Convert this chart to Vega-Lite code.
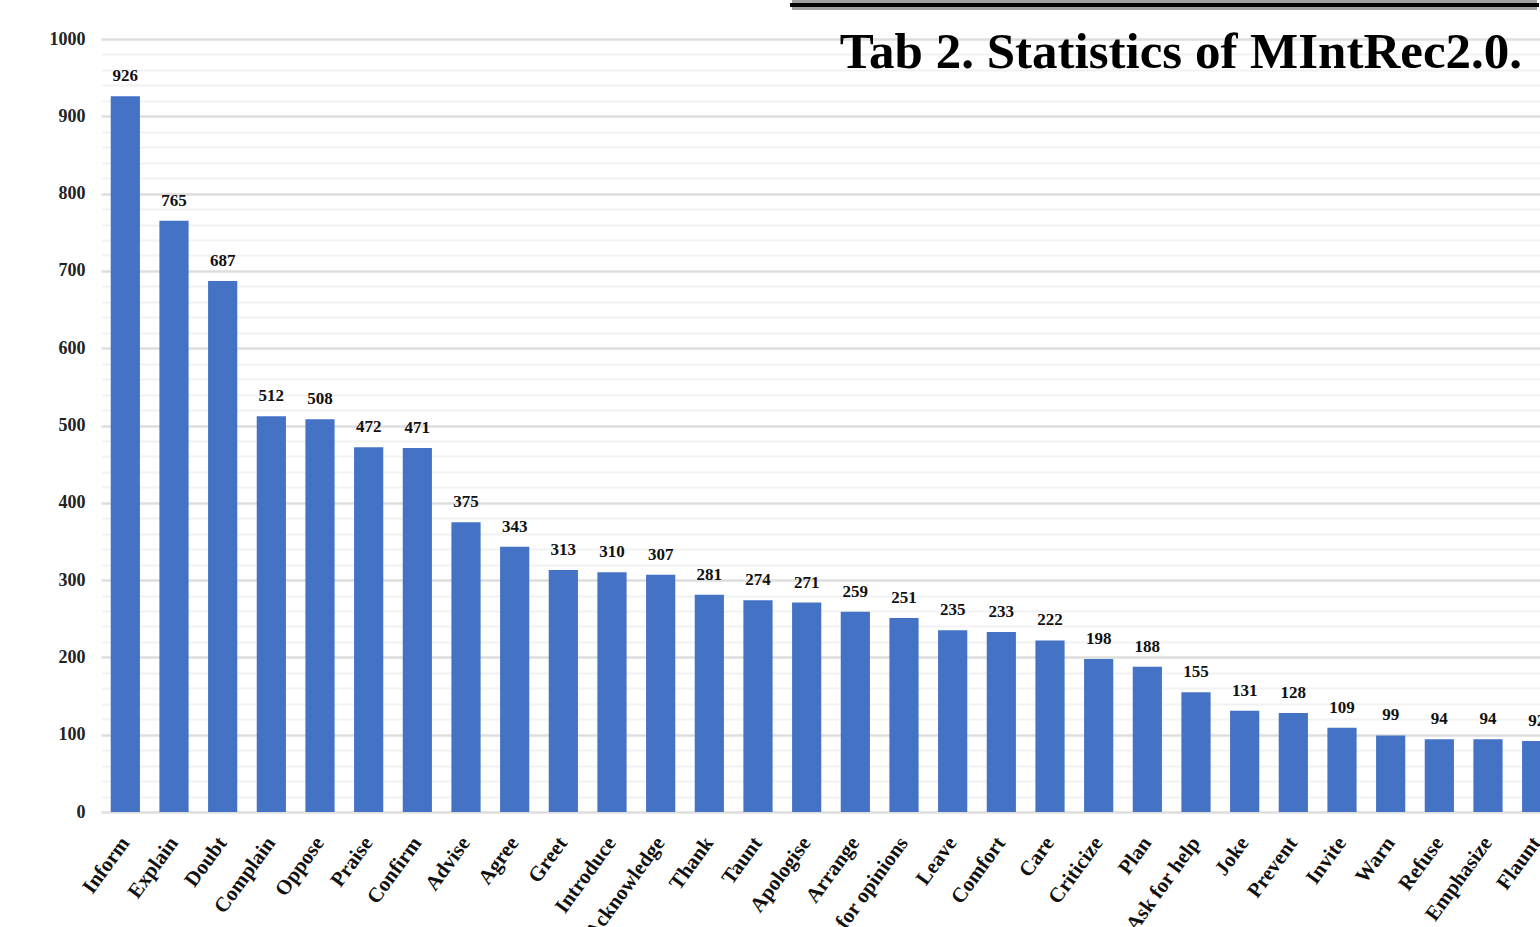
{
  "$schema": "https://vega.github.io/schema/vega-lite/v6.json",
  "width": 1439,
  "height": 773,
  "autosize": {"type": "none"},
  "padding": {"left": 101, "top": 39, "right": 0, "bottom": 115},
  "background": "white",
  "config": {
    "view": {"stroke": null},
    "font": "Liberation Serif"
  },
  "data": {
    "values": [
      {"intent": "Inform", "count": 926},
      {"intent": "Explain", "count": 765},
      {"intent": "Doubt", "count": 687},
      {"intent": "Complain", "count": 512},
      {"intent": "Oppose", "count": 508},
      {"intent": "Praise", "count": 472},
      {"intent": "Confirm", "count": 471},
      {"intent": "Advise", "count": 375},
      {"intent": "Agree", "count": 343},
      {"intent": "Greet", "count": 313},
      {"intent": "Introduce", "count": 310},
      {"intent": "Acknowledge", "count": 307},
      {"intent": "Thank", "count": 281},
      {"intent": "Taunt", "count": 274},
      {"intent": "Apologise", "count": 271},
      {"intent": "Arrange", "count": 259},
      {"intent": "Ask for opinions", "count": 251},
      {"intent": "Leave", "count": 235},
      {"intent": "Comfort", "count": 233},
      {"intent": "Care", "count": 222},
      {"intent": "Criticize", "count": 198},
      {"intent": "Plan", "count": 188},
      {"intent": "Ask for help", "count": 155},
      {"intent": "Joke", "count": 131},
      {"intent": "Prevent", "count": 128},
      {"intent": "Invite", "count": 109},
      {"intent": "Warn", "count": 99},
      {"intent": "Refuse", "count": 94},
      {"intent": "Emphasize", "count": 94},
      {"intent": "Flaunt", "count": 92}
    ]
  },
  "encoding": {
    "x": {
      "field": "intent",
      "type": "nominal",
      "sort": null,
      "scale": {"range": [0, 1460], "paddingInner": 0.4, "paddingOuter": 0.2},
      "axis": {
        "title": null,
        "ticks": false,
        "domain": false,
        "labelAngle": -54,
        "labelAlign": "right",
        "labelBaseline": "middle",
        "labelPadding": 27,
        "labelFont": "Liberation Serif",
        "labelFontSize": 21,
        "labelFontWeight": "bold",
        "labelColor": "#111111",
        "labelOverlap": false,
        "labelLimit": 300
      }
    }
  },
  "layer": [
    {
      "mark": {"type": "bar", "color": "#4472C4"},
      "encoding": {
        "y": {
          "field": "count",
          "type": "quantitative",
          "scale": {"domain": [0, 1000], "nice": false},
          "axis": {
            "title": null,
            "ticks": false,
            "domain": false,
            "tickCount": 200,
            "values": [0,20,40,60,80,100,120,140,160,180,200,220,240,260,280,300,320,340,360,380,400,420,440,460,480,500,520,540,560,580,600,620,640,660,680,700,720,740,760,780,800,820,840,860,880,900,920,940,960,980,1000],
            "labelExpr": "datum.value % 100 === 0 ? datum.label : ''",
            "labelOverlap": false,
            "format": "d",
            "labelFont": "Liberation Serif",
            "labelFontSize": 18,
            "labelFontWeight": "bold",
            "labelColor": "#222222",
            "labelPadding": 16,
            "gridColor": {"condition": {"test": "datum.value % 100 === 0", "value": "#dedede"}, "value": "#f2f2f2"},
            "gridWidth": {"condition": {"test": "datum.value % 100 === 0", "value": 2.5}, "value": 2}
          }
        }
      }
    },
    {
      "mark": {"type": "text", "baseline": "alphabetic", "dy": -15, "font": "Liberation Serif", "fontWeight": "bold", "fontSize": 17, "color": "#111111"},
      "encoding": {
        "y": {"field": "count", "type": "quantitative"},
        "text": {"field": "count", "type": "quantitative"}
      }
    },
    {
      "data": {"values": [{"title": "Tab 2. Statistics of MIntRec2.0.", "anchorIntent": "Flaunt", "level": 962}]},
      "mark": {"type": "text", "align": "right", "baseline": "alphabetic", "font": "Liberation Serif", "fontWeight": "bold", "fontSize": 51, "color": "#000000"},
      "encoding": {
        "x": {"field": "anchorIntent", "type": "nominal", "bandPosition": 0},
        "y": {"field": "level", "type": "quantitative"},
        "text": {"field": "title"}
      }
    },
    {
      "mark": {"type": "rule", "color": "#a0a0a0", "strokeWidth": 9},
      "encoding": {
        "x": {"datum": "Apologise", "bandPosition": 0},
        "x2": {"datum": "Flaunt"},
        "y": {"datum": 1044}
      }
    },
    {
      "mark": {"type": "rule", "color": "#000000", "strokeWidth": 4, "strokeCap": "square"},
      "encoding": {
        "x": {"datum": "Apologise", "bandPosition": 0},
        "x2": {"datum": "Flaunt"},
        "y": {"datum": 1044}
      }
    }
  ]
}
